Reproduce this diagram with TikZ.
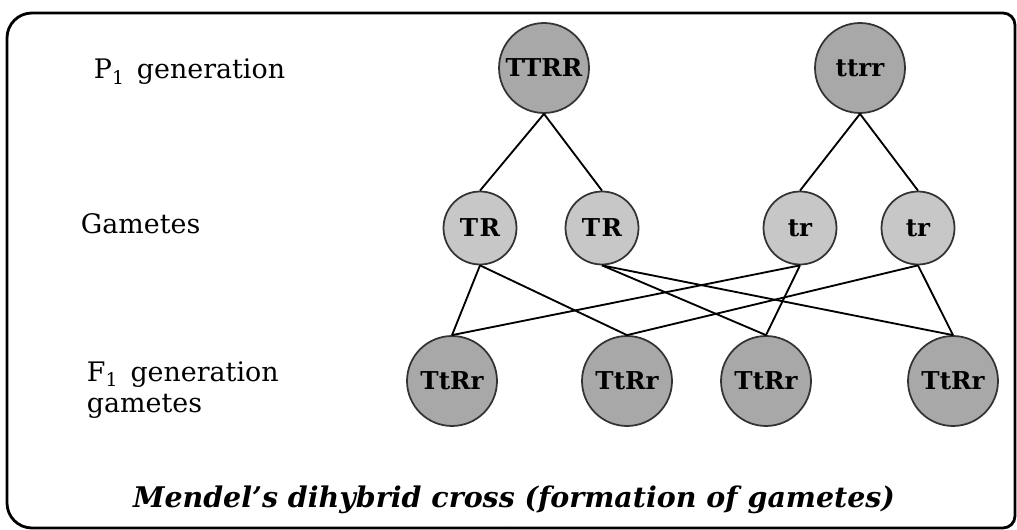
\documentclass[tikz,border=0pt]{standalone}
\usepackage{fontspec}
\setmainfont{DejaVu Serif}
\usetikzlibrary{positioning}
\tikzset
{
  parent/.style = {circle, draw=black!80, line width=1pt, fill=black!34, minimum size=1.8cm, inner sep=0pt, font=\fontsize{14}{16}\selectfont\bfseries},
  gamete/.style = {circle, draw=black!80, line width=1pt, fill=black!22, minimum size=1.46cm, inner sep=0pt, font=\fontsize{14}{16}\selectfont\bfseries},
  rowtext/.style = {anchor=west, inner sep=0pt, font=\fontsize{15.3}{17.5}\selectfont},
  frame/.style = {draw=black, line width=1.6pt},
  title/.style = {inner sep=0pt, font=\fontsize{16.2}{19}\selectfont\bfseries\itshape}
}
\begin{document}
\begin{tikzpicture}[x=0.02cm, y=-0.02cm, line width=1.05pt]
  \useasboundingbox (0,0) rectangle (1017,530);
  % frame
  \draw[frame, rounded corners=0.5cm] (510,528) -- (7,528) -- (7,13) -- (510,13);
  \draw[frame, rounded corners=0.24cm] (510,13) -- (1015,13) -- (1015,528) -- (510,528);
  % row captions
  \node[rowtext] (lblP) at (93,72) {P\textsubscript{1}\hspace{0.45em}generation};
  \node[rowtext] (lblG) at (80,224) {Gametes};
  \node[rowtext, align=left] (lblF) at (86,390) {F\textsubscript{1}\hspace{0.45em}generation\\gametes};
  % parents
  \node[parent] (TTRR) at (544,68) {TTRR};
  \node[parent] (ttrr) at (860,68) {ttrr};
  % gametes
  \node[gamete] (TR1) at (480,228) {T\kern0.06em R};
  \node[gamete] (TR2) at (602,228) {T\kern0.06em R};
  \node[gamete] (tr1) at (800,228) {tr};
  \node[gamete] (tr2) at (918,228) {tr};
  % F1 generation
  \node[parent] (F1a) at (452,381) {TtRr};
  \node[parent] (F1b) at (627,381) {TtRr};
  \node[parent] (F1c) at (766,381) {TtRr};
  \node[parent] (F1d) at (953,381) {TtRr};
  % connections
  \draw (TTRR.south) -- (TR1.north);
  \draw (TTRR.south) -- (TR2.north);
  \draw (ttrr.south) -- (tr1.north);
  \draw (ttrr.south) -- (tr2.north);
  \draw (TR1.south) -- (F1a.north);
  \draw (TR1.south) -- (F1b.north);
  \draw (TR2.south) -- (F1c.north);
  \draw (TR2.south) -- (F1d.north);
  \draw (tr1.south) -- (F1a.north);
  \draw (tr1.south) -- (F1c.north);
  \draw (tr2.south) -- (F1b.north);
  \draw (tr2.south) -- (F1d.north);
  % caption
  \node[title] (cap) at (514,500) {Mendel’s dihybrid cross (formation of gametes)};
\end{tikzpicture}
\end{document}
